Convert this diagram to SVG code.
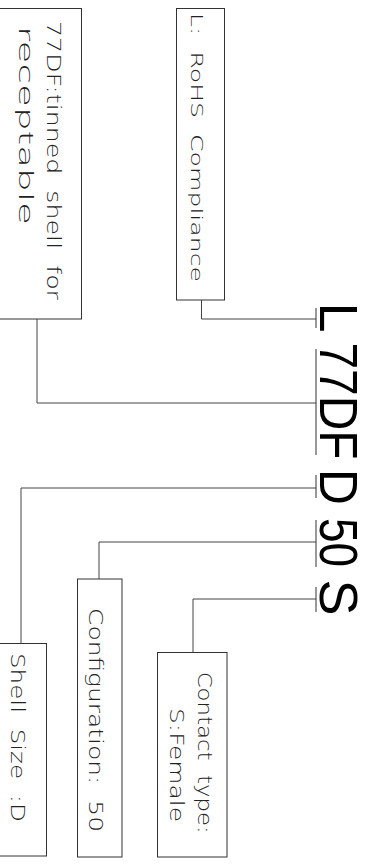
<svg xmlns="http://www.w3.org/2000/svg" width="382" height="865" viewBox="0 0 382 865">
<style>
.box{fill:#fff;stroke:#333;stroke-width:1}
.ln{fill:none;stroke:#444;stroke-width:1}
.tk{fill:none;stroke:#333;stroke-width:1}
.lbl{font-family:"DejaVu Sans","Liberation Sans",sans-serif;font-weight:200;fill:#222}
.big{font-family:"Liberation Sans",Arial,sans-serif;font-size:54px;fill:#000}
</style>
<rect width="382" height="865" fill="#fff"/>
<g id="connectors">
<polyline class="ln" points="201.5,300 201.5,319 316,319"/>
<polyline class="ln" points="37,319 37,403 316,403"/>
<polyline class="ln" points="316,488 21,488 21,643"/>
<polyline class="ln" points="316,542 99,542 99,579"/>
<polyline class="ln" points="316,599 193,599 193,652.5"/>
<line class="tk" x1="316" y1="308" x2="316" y2="328"/>
<line class="tk" x1="316" y1="349" x2="316" y2="455"/>
<line class="tk" x1="316" y1="475" x2="316" y2="498"/>
<line class="tk" x1="316" y1="520" x2="316" y2="567"/>
<line class="tk" x1="316" y1="587" x2="316" y2="612"/>
</g>
<g id="code">
<text class="big" transform="rotate(90)" y="-319.5"><tspan x="302.5">L</tspan><tspan x="342.5" textLength="117" lengthAdjust="spacingAndGlyphs">77DF</tspan><tspan x="469" textLength="36" lengthAdjust="spacingAndGlyphs">D</tspan><tspan x="518" textLength="49" lengthAdjust="spacingAndGlyphs">50</tspan><tspan x="579.5">S</tspan></text>
</g>
<g id="node-rohs">
<rect class="box" x="176.5" y="8.5" width="48" height="291.5"/>
<text class="lbl" transform="rotate(90)" x="13" y="-190.7" font-size="15" textLength="269" lengthAdjust="spacingAndGlyphs" xml:space="preserve">L:  RoHS  Compliance</text>
</g>
<g id="node-77df">
<rect class="box" x="-2" y="8.5" width="83.5" height="310.5"/>
<text class="lbl" transform="rotate(90)" x="21" y="-46.5" font-size="19" textLength="279" lengthAdjust="spacingAndGlyphs" xml:space="preserve">77DF:tinned  shell  for</text>
<text class="lbl" transform="rotate(90)" x="26" y="-18.5" font-size="19" textLength="199" lengthAdjust="spacingAndGlyphs">receptable</text>
</g>
<g id="node-shell">
<rect class="box" x="-2" y="643.5" width="48.5" height="212.5"/>
<text class="lbl" transform="rotate(90)" x="653" y="-11" font-size="19" textLength="169" lengthAdjust="spacingAndGlyphs" xml:space="preserve">Shell  Size  :D</text>
</g>
<g id="node-config">
<rect class="box" x="77.5" y="579" width="44.5" height="278"/>
<text class="lbl" transform="rotate(90)" x="608" y="-88.5" font-size="19" textLength="224" lengthAdjust="spacingAndGlyphs" xml:space="preserve">Configuration:  50</text>
</g>
<g id="node-contact">
<rect class="box" x="157.5" y="652.5" width="69.5" height="204.5"/>
<text class="lbl" transform="rotate(90)" x="671.7" y="-198" font-size="19" textLength="162" lengthAdjust="spacingAndGlyphs" xml:space="preserve">Contact  type:</text>
<text class="lbl" transform="rotate(90)" x="708" y="-170" font-size="19" textLength="114" lengthAdjust="spacingAndGlyphs">S:Female</text>
</g>
</svg>
